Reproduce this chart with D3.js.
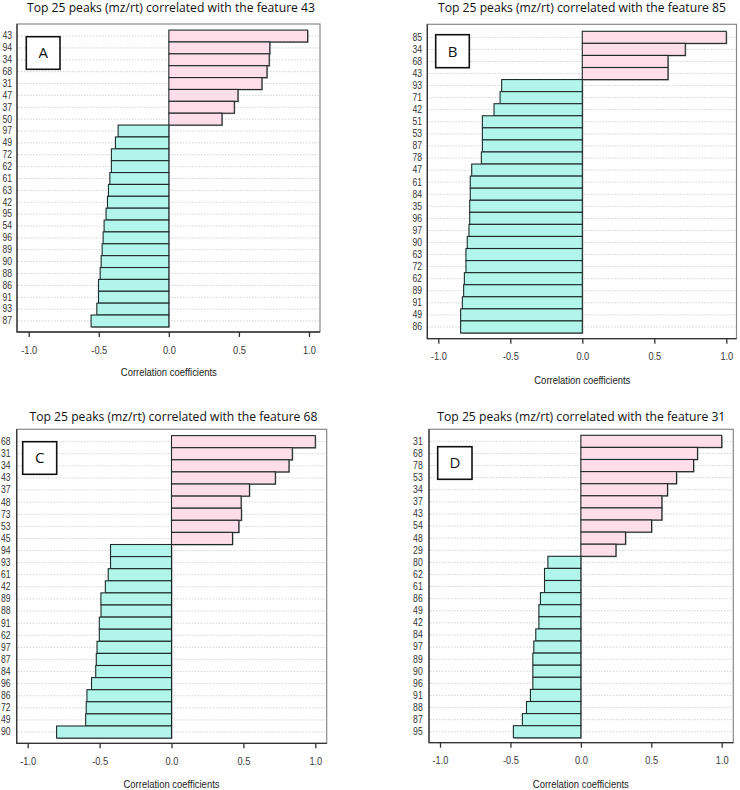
<!DOCTYPE html>
<html>
<head>
<meta charset="utf-8">
<script src="https://cdn.jsdelivr.net/npm/d3@7"></script>
<style>
  html, body { margin: 0; padding: 0; background: #fff; }
  svg { display: block; }
</style>
</head>
<body>
<svg id="chart" width="740" height="790"></svg>
<script>
// ---------- DATA ----------
const featureA = "43";
const labelsA = ["43","94","34","68","31","47","37","50","97","49","72","62","61","63","42","95","54","96","89","90","88","86","91","93","87"];
const valuesA = [0.99,0.72,0.716,0.70,0.664,0.493,0.467,0.379,-0.362,-0.381,-0.41,-0.41,-0.421,-0.431,-0.438,-0.448,-0.462,-0.469,-0.476,-0.483,-0.49,-0.502,-0.502,-0.514,-0.555];

const featureB = "85";
const labelsB = ["85","34","68","43","93","71","42","51","53","87","78","47","61","84","35","96","97","90","63","72","62","89","91","49","86"];
const valuesB = [1.0,0.715,0.595,0.595,-0.56,-0.571,-0.613,-0.694,-0.694,-0.694,-0.701,-0.768,-0.778,-0.778,-0.782,-0.782,-0.787,-0.799,-0.808,-0.808,-0.819,-0.824,-0.833,-0.845,-0.845];

const featureC = "68";
const labelsC = ["68","31","34","43","37","48","73","53","45","94","93","61","42","89","88","91","62","97","87","84","96","86","72","49","90"];
const valuesC = [1.0,0.84,0.817,0.722,0.542,0.484,0.486,0.468,0.424,-0.424,-0.424,-0.44,-0.46,-0.491,-0.49,-0.502,-0.502,-0.518,-0.523,-0.527,-0.556,-0.588,-0.593,-0.597,-0.799];

const featureD = "31";
const labelsD = ["31","68","78","53","34","37","43","54","48","29","80","62","61","86","49","42","84","97","89","90","96","91","88","87","95"];
const valuesD = [1.0,0.828,0.80,0.679,0.615,0.575,0.575,0.502,0.317,0.249,-0.234,-0.258,-0.258,-0.287,-0.298,-0.298,-0.32,-0.334,-0.341,-0.341,-0.341,-0.358,-0.386,-0.415,-0.479];

const tickValues = [-1.0, -0.5, 0.0, 0.5, 1.0];
const xTitle = "Correlation coefficients";
const panelLetters = ["A","B","C","D"];

// ---------- LAYOUT ----------
const panels = [
  { letter: panelLetters[0], feature: featureA, labels: labelsA, values: valuesA,
    box: [17, 24, 320, 332], xr: [28.7, 309], yr: [30.1, 326.9],
    titleX: 171, titleY: 11.5, titleW: 288, labelX: 12,
    tickY: 354, axTitleY: 376, lbox: [26.3, 36.7, 60, 69.3] },
  { letter: panelLetters[1], feature: featureB, labels: labelsB, values: valuesB,
    box: [427.3, 24.3, 736.5, 338.7], xr: [438.3, 726.3], yr: [31.3, 333.0],
    titleX: 582, titleY: 11.5, titleW: 288, labelX: 422,
    tickY: 360, axTitleY: 384, lbox: [435.7, 34.7, 469.3, 67.7] },
  { letter: panelLetters[2], feature: featureC, labels: labelsC, values: valuesC,
    box: [16.7, 429.3, 326.7, 743.3], xr: [27.7, 315.3], yr: [435.6, 738.1],
    titleX: 173.5, titleY: 421, titleW: 288, labelX: 10.5,
    tickY: 765, axTitleY: 788, lbox: [22.7, 441.7, 56.7, 474.3] },
  { letter: panelLetters[3], feature: featureD, labels: labelsD, values: valuesD,
    box: [429, 429.3, 733.3, 742.7], xr: [440, 721.7], yr: [435.3, 737.8],
    titleX: 581.3, titleY: 421, titleW: 288, labelX: 422.7,
    tickY: 764.5, axTitleY: 787.5, lbox: [437.7, 446.7, 472, 479.3] }
];

const svg = d3.select("#chart");
const fmt = v => d3.format(".1f")(v).replace("\u2212", "-");
const sans = "'Liberation Sans', Arial, sans-serif";

// narrow the glyphs a bit (the reference uses a condensed face)
function condense(sel, ratio) {
  sel.each(function () {
    const w = this.getComputedTextLength();
    d3.select(this).attr("textLength", w * ratio).attr("lengthAdjust", "spacingAndGlyphs");
  });
}

panels.forEach(p => {
  const g = svg.append("g");
  const [bx0, by0, bx1, by1] = p.box;
  const x = d3.scaleLinear().domain([-1, 1]).range(p.xr);
  const y = d3.scaleBand().domain(p.labels).range(p.yr).padding(0);

  // title
  g.append("text")
    .attr("x", p.titleX).attr("y", p.titleY)
    .attr("text-anchor", "middle")
    .attr("font-family", "'Open Sans', 'Noto Sans', sans-serif")
    .attr("font-size", 12)
    .attr("fill", "#111")
    .attr("textLength", p.titleW)
    .attr("lengthAdjust", "spacingAndGlyphs")
    .text(`Top 25 peaks (mz/rt) correlated with the feature ${p.feature}`);

  // gridlines
  g.selectAll("line.grid").data(p.labels).enter().append("line")
    .attr("class", "grid")
    .attr("x1", bx0 + 1).attr("x2", bx1 - 1)
    .attr("y1", d => y(d) + y.bandwidth() / 2)
    .attr("y2", d => y(d) + y.bandwidth() / 2)
    .attr("stroke", "#c8c8c8").attr("stroke-width", 0.8)
    .attr("stroke-dasharray", "1.5,1.5");

  const data = p.labels.map((l, i) => ({ label: l, value: p.values[i] }));

  // bar shadows
  g.selectAll("rect.shadow").data(data).enter().append("rect")
    .attr("class", "shadow")
    .attr("x", d => Math.min(x(0), x(d.value)) + 1)
    .attr("y", d => y(d.label) + 1)
    .attr("width", d => Math.abs(x(d.value) - x(0)))
    .attr("height", y.bandwidth())
    .attr("fill", "#9a9a9a");

  // bars
  g.selectAll("rect.bar").data(data).enter().append("rect")
    .attr("class", "bar")
    .attr("x", d => Math.min(x(0), x(d.value)))
    .attr("y", d => y(d.label))
    .attr("width", d => Math.abs(x(d.value) - x(0)))
    .attr("height", y.bandwidth())
    .attr("fill", d => d.value >= 0 ? "#ffdde9" : "#b2f5eb")
    .attr("stroke", "#1f2a2a").attr("stroke-width", 1.1);

  // plot box: light top/right, dark left/bottom
  g.append("rect")
    .attr("x", bx0).attr("y", by0)
    .attr("width", bx1 - bx0).attr("height", by1 - by0)
    .attr("fill", "none").attr("stroke", "#8a8a8a").attr("stroke-width", 1.2);
  g.append("path")
    .attr("d", `M${bx0},${by0} L${bx0},${by1} L${bx1},${by1}`)
    .attr("fill", "none").attr("stroke", "#333").attr("stroke-width", 1.3);

  // y axis labels
  const yAxis = d3.axisLeft(y).tickSize(0).tickPadding(0);
  const ya = g.append("g").attr("transform", `translate(${p.labelX},0)`).call(yAxis);
  ya.select(".domain").remove();
  ya.selectAll("text")
    .attr("font-family", sans)
    .attr("font-size", 10.5)
    .attr("fill", "#333")
    .call(condense, 0.82);

  // x axis
  const xAxis = d3.axisBottom(x).tickValues(tickValues).tickFormat(fmt)
    .tickSize(5).tickPadding(0);
  const xa = g.append("g").attr("transform", `translate(0,${by1})`).call(xAxis);
  xa.select(".domain").remove();
  xa.selectAll(".tick line").attr("stroke", "#333").attr("stroke-width", 1.3);
  xa.selectAll("text")
    .attr("y", p.tickY - by1).attr("dy", 0)
    .attr("font-family", sans)
    .attr("font-size", 10.5)
    .attr("fill", "#3a3a3a")
    .call(condense, 0.88);

  // x axis title
  g.append("text")
    .attr("x", (p.xr[0] + p.xr[1]) / 2).attr("y", p.axTitleY)
    .attr("text-anchor", "middle")
    .attr("font-family", sans)
    .attr("font-size", 10.5)
    .attr("fill", "#222")
    .attr("textLength", 96)
    .attr("lengthAdjust", "spacingAndGlyphs")
    .text(xTitle);

  // panel letter box
  const [lx0, ly0, lx1, ly1] = p.lbox;
  g.append("rect")
    .attr("x", lx0).attr("y", ly0)
    .attr("width", lx1 - lx0).attr("height", ly1 - ly0)
    .attr("fill", "#fff").attr("stroke", "#111").attr("stroke-width", 1.6);
  g.append("text")
    .attr("x", (lx0 + lx1) / 2).attr("y", (ly0 + ly1) / 2)
    .attr("dy", "0.36em")
    .attr("text-anchor", "middle")
    .attr("font-family", "'Open Sans', 'Noto Sans', sans-serif")
    .attr("font-size", 15)
    .attr("fill", "#111")
    .text(p.letter);
});
</script>
</body>
</html>
